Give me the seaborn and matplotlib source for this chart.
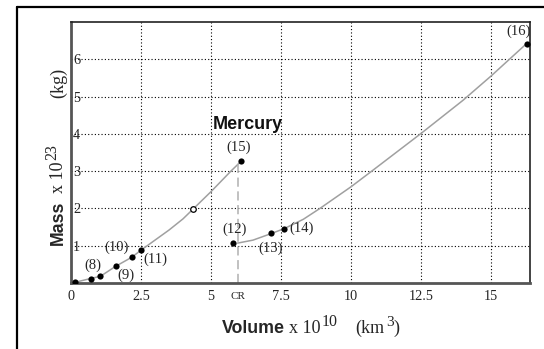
import matplotlib
matplotlib.use('Agg')
import matplotlib.pyplot as plt
import seaborn as sns
import pandas as pd
from matplotlib.lines import Line2D

# -------------------------------------------------------
# Data
# -------------------------------------------------------
# inner branch (small bodies -> Mercury)
curve1_x = [0.0, 0.15, 0.7, 1.05, 1.6, 2.17, 2.5, 3.0, 3.5, 4.0, 4.37, 5.0, 5.71, 6.08]
curve1_y = [0.0, 0.02, 0.12, 0.18, 0.45, 0.69, 0.88, 1.15, 1.42, 1.72, 1.99, 2.45, 3.0, 3.27]
# outer branch (after CR -> (16))
curve2_x = [5.95, 6.5, 7.13, 7.62, 8.3, 8.89, 10.0, 10.74, 12.5, 14.0, 15.0, 16.27]
curve2_y = [1.07, 1.15, 1.32, 1.46, 1.71, 2.0, 2.58, 3.0, 4.01, 4.9, 5.55, 6.42]

dot_x = [0.15, 0.7, 1.05, 1.6, 2.17, 2.5, 5.77, 6.08, 7.13, 7.62, 16.27]
dot_y = [0.02, 0.12, 0.18, 0.45, 0.69, 0.88, 1.06, 3.27, 1.33, 1.46, 6.42]
open_x = [4.37]
open_y = [1.99]

labels = ["(8)", "(9)", "(10)", "(11)", "(12)", "(13)", "(14)", "(15)", "(16)"]
label_x = [0.79, 1.95, 1.63, 3.0, 5.83, 7.14, 8.25, 5.98, 15.99]
label_y = [0.48, 0.21, 0.95, 0.64, 1.44, 0.93, 1.47, 3.63, 6.74]

cr_x = 5.95
cr_top = 3.27

x_ticks = [0, 2.5, 5, 7.5, 10, 12.5, 15]
x_ticklabels = ["0", "2.5", "5", "7.5", "10", "12.5", "15"]
y_ticks = [1, 2, 3, 4, 5, 6]

sns.set_style("white")

W, H = 544, 349
SERIF = "Liberation Serif"
SANS = "Liberation Sans"

fig = plt.figure(figsize=(W / 100, H / 100), dpi=100)
ax = fig.add_axes([71 / W, 1 - 283 / H, (530 - 71) / W, (283 - 22) / H])

df1 = pd.DataFrame({"x": curve1_x, "y": curve1_y})
df2 = pd.DataFrame({"x": curve2_x, "y": curve2_y})
sns.lineplot(data=df1, x="x", y="y", sort=False, color="#a0a0a0", lw=1.1, ax=ax)
sns.lineplot(data=df2, x="x", y="y", sort=False, color="#a0a0a0", lw=1.1, ax=ax)

# dashed CR line
ax.plot([cr_x, cr_x], [0, cr_top], color="#b0b0b0", lw=1.1, ls=(0, (6, 3)))

sns.scatterplot(x=dot_x, y=dot_y, color="black", s=20, edgecolor="black", linewidth=0, ax=ax, zorder=5)
sns.scatterplot(x=open_x, y=open_y, color="white", s=16, edgecolor="black", linewidth=0.9, ax=ax, zorder=5)

for t, lx, ly in zip(labels, label_x, label_y):
    ax.text(lx, ly, t, ha="center", va="center", fontsize=10.5, family=SERIF)

ax.text(6.32, 4.24, "Mercury", ha="center", va="center", fontsize=13,
        family=SANS, weight="bold", color="#111111")

ax.set_xlim(0, (530 - 71) / 28)
ax.set_ylim(0, 7)
ax.set_xticks(x_ticks)
ax.set_xticklabels(x_ticklabels, family=SERIF, fontsize=10.3)
ax.set_yticks(y_ticks)
ax.set_yticklabels([str(v) for v in y_ticks], family=SERIF, fontsize=10.3)
ax.tick_params(axis="x", length=0, pad=5)
ax.tick_params(axis="y", length=0, pad=-6.5)
ax.text(cr_x, -0.36, "CR", ha="center", va="center", fontsize=8, family=SERIF)

ax.grid(True, color="black", ls=(0, (1, 2)), lw=0.8)
ax.set_xlabel("")
ax.set_ylabel("")
for side in ["top", "right"]:
    ax.spines[side].set_color("#222222")
    ax.spines[side].set_linewidth(1.2)
for side in ["left", "bottom"]:
    ax.spines[side].set_color("#555555")
    ax.spines[side].set_linewidth(2)


def px(x, y):
    # pixel position (from top-left) -> figure fraction
    return x / W, 1 - y / H


# x axis title: bold sans word + serif units with superscripts
base = 333
fig.text(*px(222, base), "Volume", ha="left", va="baseline", fontsize=12.8,
         family=SANS, weight="bold")
fig.text(*px(289, base), "x 10", ha="left", va="baseline", fontsize=13, family=SERIF)
fig.text(*px(322, base - 7), "10", ha="left", va="baseline", fontsize=11.5, family=SERIF)
fig.text(*px(355, base), "(km", ha="left", va="baseline", fontsize=13, family=SERIF)
fig.text(*px(386, base - 7), "3", ha="left", va="baseline", fontsize=11, family=SERIF)
fig.text(*px(393, base), ")", ha="left", va="baseline", fontsize=13, family=SERIF)

# y axis title (rotated)
bx = 63
rot = dict(ha="left", va="baseline", rotation=90, rotation_mode="anchor")
fig.text(*px(bx, 245), "Mass", fontsize=12.8, family=SANS, weight="bold", **rot)
fig.text(*px(bx, 193), "x 10", fontsize=13, family=SERIF, **rot)
fig.text(*px(bx - 7, 160), "23", fontsize=11.5, family=SERIF, **rot)
fig.text(*px(bx, 98), "(kg)", fontsize=13, family=SERIF, **rot)

# outer frame (left and top edges)
fig.add_artist(Line2D([17 / W, 17 / W], [0, 1 - 7 / H], color="black", lw=1.6,
                      transform=fig.transFigure))
fig.add_artist(Line2D([17 / W, 1], [1 - 7 / H, 1 - 7 / H], color="black", lw=1.6,
                      transform=fig.transFigure))

fig.savefig("out.png", dpi=100)
